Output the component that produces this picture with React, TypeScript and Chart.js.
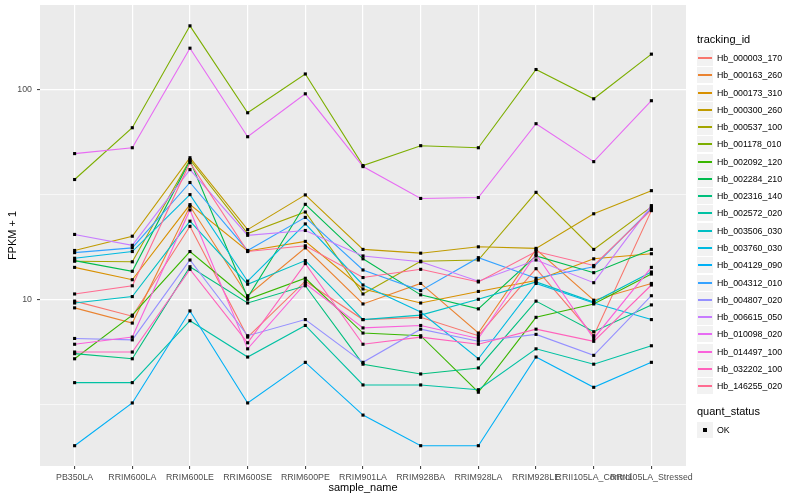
import React, { useEffect, useRef } from 'react';
import { Chart, registerables } from 'chart.js';

Chart.register(...registerables);

const FONT = '"Liberation Sans", Arial, Helvetica, sans-serif';

const categories = [
  'PB350LA', 'RRIM600LA', 'RRIM600LE', 'RRIM600SE', 'RRIM600PE', 'RRIM901LA',
  'RRIM928BA', 'RRIM928LA', 'RRIM928LE', 'RRII105LA_Control', 'RRII105LA_Stressed',
];

const hb_000003_170 = [9.8, 8.3, 22.3, 6.6, 12.2, 8.0, 8.2, 6.7, 14.0, 6.7, 26.5];
const hb_000163_260 = [9.1, 7.7, 27.8, 10.4, 17.6, 9.5, 11.9, 6.9, 17.3, 9.9, 11.9];
const hb_000173_310 = [14.2, 12.4, 28.3, 17.0, 18.9, 11.2, 9.6, 10.9, 12.3, 15.6, 16.5];
const hb_000300_260 = [17.1, 20.0, 47.4, 21.5, 31.5, 17.3, 16.6, 17.8, 17.5, 25.6, 33.0];
const hb_000537_100 = [15.2, 15.1, 46.4, 20.6, 26.1, 10.6, 15.2, 15.4, 32.4, 17.3, 27.6];
const hb_001178_010 = [37.3, 65.9, 202, 77.7, 119, 43.5, 54.1, 52.9, 125, 90.6, 148];
const hb_002092_120 = [5.2, 8.4, 16.9, 10.0, 12.6, 6.9, 6.7, 3.6, 8.2, 9.5, 13.2];
const hb_002284_210 = [15.3, 13.6, 45.9, 10.2, 28.4, 15.6, 10.5, 9.0, 16.1, 13.4, 17.3];
const hb_002316_140 = [5.5, 5.2, 14.3, 9.6, 11.6, 4.9, 4.4, 4.7, 9.8, 7.0, 9.4];
const hb_002572_020 = [4.0, 4.0, 7.9, 5.3, 7.5, 3.9, 3.9, 3.7, 5.8, 4.9, 6.0];
const hb_003506_030 = [9.6, 10.3, 23.6, 11.8, 15.3, 8.0, 8.4, 10.0, 12.1, 9.7, 13.5];
const hb_003760_030 = [15.7, 16.9, 31.6, 12.2, 22.9, 11.7, 8.7, 5.2, 11.9, 9.6, 8.0];
const hb_004129_090 = [2.0, 3.2, 8.8, 3.2, 5.0, 2.8, 2.0, 2.0, 5.3, 3.8, 5.0];
const hb_004312_010 = [16.7, 17.6, 36.1, 17.1, 24.6, 13.8, 11.0, 15.8, 12.6, 14.3, 27.1];
const hb_004807_020 = [6.5, 6.4, 15.4, 6.7, 8.0, 5.0, 7.2, 6.3, 6.8, 5.4, 10.4];
const hb_006615_050 = [20.4, 18.1, 41.6, 20.2, 21.3, 16.1, 15.1, 12.2, 15.4, 12.0, 28.0];
const hb_010098_020 = [49.6, 52.9, 158, 59.7, 95.7, 43.0, 30.3, 30.6, 68.9, 45.4, 88.7];
const hb_014497_100 = [6.1, 6.6, 26.7, 5.8, 11.9, 7.3, 7.5, 6.5, 16.4, 6.5, 14.2];
const hb_032202_100 = [5.6, 5.6, 13.9, 6.2, 14.8, 6.1, 6.6, 6.1, 7.2, 6.3, 11.7];
const hb_146255_020 = [10.6, 11.6, 44.9, 16.9, 18.0, 12.7, 13.9, 12.1, 16.9, 14.5, 26.7];

const trackingIds = [
  'Hb_000003_170', 'Hb_000163_260', 'Hb_000173_310', 'Hb_000300_260', 'Hb_000537_100',
  'Hb_001178_010', 'Hb_002092_120', 'Hb_002284_210', 'Hb_002316_140', 'Hb_002572_020',
  'Hb_003506_030', 'Hb_003760_030', 'Hb_004129_090', 'Hb_004312_010', 'Hb_004807_020',
  'Hb_006615_050', 'Hb_010098_020', 'Hb_014497_100', 'Hb_032202_100', 'Hb_146255_020',
];

const seriesValues = [
  hb_000003_170, hb_000163_260, hb_000173_310, hb_000300_260, hb_000537_100,
  hb_001178_010, hb_002092_120, hb_002284_210, hb_002316_140, hb_002572_020,
  hb_003506_030, hb_003760_030, hb_004129_090, hb_004312_010, hb_004807_020,
  hb_006615_050, hb_010098_020, hb_014497_100, hb_032202_100, hb_146255_020,
];

const seriesColors = [
  '#F8766D', '#EA8331', '#D89000', '#C09B00', '#A3A500',
  '#7CAE00', '#39B600', '#00BB4E', '#00BF7D', '#00C1A3',
  '#00BFC4', '#00BAE0', '#00B0F6', '#35A2FF', '#9590FF',
  '#C77CFF', '#E76BF3', '#FA62DB', '#FF62BC', '#FF6C91',
];

const majorYTicks = [10, 100];
const minorYTicks = [3.1623, 31.623];
const quantStatus = ['OK'];

export default function App() {
  const ref = useRef<HTMLCanvasElement | null>(null);

  useEffect(() => {
    if (!ref.current) return;
    const panelBg = {
      id: 'panelBg',
      beforeDraw(chart: any) {
        const { ctx, chartArea: a } = chart;
        ctx.save();
        ctx.fillStyle = '#EBEBEB';
        ctx.fillRect(a.left, a.top, a.width, a.height);
        ctx.restore();
      },
    };

    const lineSets = trackingIds.map((id, i) => ({
      label: id,
      data: seriesValues[i].map((v, j) => ({ x: j, y: v })),
      showLine: true,
      borderColor: seriesColors[i],
      backgroundColor: seriesColors[i],
      borderWidth: 1.1,
      pointRadius: 0,
      fill: false,
      order: trackingIds.length - i,
    }));

    const pointSet = {
      label: quantStatus[0],
      data: seriesValues.flatMap((vals) => vals.map((v, j) => ({ x: j, y: v }))),
      showLine: false,
      pointStyle: 'rect',
      pointRadius: 2.2,
      backgroundColor: '#000000',
      borderColor: '#000000',
      borderWidth: 0,
      order: 0,
    };

    const isMajor = (v: number) => majorYTicks.includes(v);

    const chart = new Chart(ref.current, {
      type: 'scatter',
      data: { datasets: [pointSet, ...lineSets] as any },
      options: {
        animation: false,
        responsive: false,
        layout: { padding: { left: 0, top: 5, right: 114, bottom: 0 } },
        plugins: { legend: { display: false }, tooltip: { enabled: false } },
        scales: {
          x: {
            type: 'linear',
            min: -0.6,
            max: 10.6,
            afterBuildTicks: (s: any) => {
              s.ticks = categories.map((_, i) => ({ value: i }));
            },
            afterFit: (s: any) => {
              s.height = 34;
              s.paddingLeft = 0;
              s.paddingRight = 0;
            },
            ticks: {
              callback: (v: any) => categories[Math.round(Number(v))] ?? '',
              autoSkip: false,
              maxRotation: 0,
              minRotation: 0,
              color: '#4D4D4D',
              font: { size: 8.8, family: FONT },
              padding: 3,
            },
            grid: {
              color: '#FFFFFF',
              lineWidth: 1.2,
              tickColor: '#333333',
              tickLength: 3,
              tickWidth: 1,
            },
            border: { display: false },
            title: {
              display: true,
              text: 'sample_name',
              color: '#000000',
              font: { size: 11, family: FONT },
              padding: { top: 2, bottom: 5 },
            },
          },
          y: {
            type: 'logarithmic',
            min: 1.6,
            max: 254,
            afterBuildTicks: (s: any) => {
              s.ticks = [...minorYTicks, ...majorYTicks]
                .sort((a, b) => a - b)
                .map((v) => ({ value: v }));
            },
            afterFit: (s: any) => {
              s.width = 40;
              s.paddingTop = 0;
              s.paddingBottom = 0;
            },
            ticks: {
              callback: (v: any) => (isMajor(Number(v)) ? String(v) : ''),
              autoSkip: false,
              color: '#4D4D4D',
              font: { size: 8.8, family: FONT },
              padding: 5,
            },
            grid: {
              color: '#FFFFFF',
              lineWidth: (ctx: any) => (ctx.tick && isMajor(ctx.tick.value) ? 1.2 : 0.6),
              tickColor: (ctx: any) => (ctx.tick && isMajor(ctx.tick.value) ? '#333333' : 'rgba(0,0,0,0)'),
              tickLength: 3,
              tickWidth: 1,
            },
            border: { display: false },
            title: {
              display: true,
              text: 'FPKM + 1',
              color: '#000000',
              font: { size: 11, family: FONT },
              padding: { top: 6, bottom: 0 },
            },
          },
        },
      } as any,
      plugins: [panelBg],
    });
    return () => chart.destroy();
  }, []);

  const legendTop = 49;
  const step = 17.27;

  return (
    <div style={{ position: 'absolute', left: 0, top: 0, width: 800, height: 500, background: '#fff', fontFamily: FONT }}>
      <canvas ref={ref} width={800} height={500} style={{ position: 'absolute', left: 0, top: 0, width: 800, height: 500 }} />
      <div style={{ position: 'absolute', left: 697, top: 33, fontSize: 11, color: '#000', whiteSpace: 'nowrap' }}>tracking_id</div>
      {trackingIds.map((id, i) => (
        <div key={id} style={{ position: 'absolute', left: 697, top: Math.round(legendTop + i * step), height: 17, display: 'flex', alignItems: 'center' }}>
          <div style={{ width: 16, height: 16, background: '#F2F2F2', position: 'relative' }}>
            <div style={{ position: 'absolute', left: 1, right: 1, top: 7, height: 2, background: seriesColors[i] }} />
          </div>
          <span style={{ marginLeft: 4, fontSize: 8.8, color: '#000', whiteSpace: 'nowrap' }}>{id}</span>
        </div>
      ))}
      <div style={{ position: 'absolute', left: 697, top: 405, fontSize: 11, color: '#000', whiteSpace: 'nowrap' }}>quant_status</div>
      {quantStatus.map((s, i) => (
        <div key={s} style={{ position: 'absolute', left: 697, top: Math.round(421 + i * step), height: 17, display: 'flex', alignItems: 'center' }}>
          <div style={{ width: 16, height: 16, background: '#F2F2F2', position: 'relative' }}>
            <div style={{ position: 'absolute', left: 6, top: 6, width: 4, height: 4, background: '#000' }} />
          </div>
          <span style={{ marginLeft: 4, fontSize: 8.8, color: '#000', whiteSpace: 'nowrap' }}>{s}</span>
        </div>
      ))}
    </div>
  );
}
